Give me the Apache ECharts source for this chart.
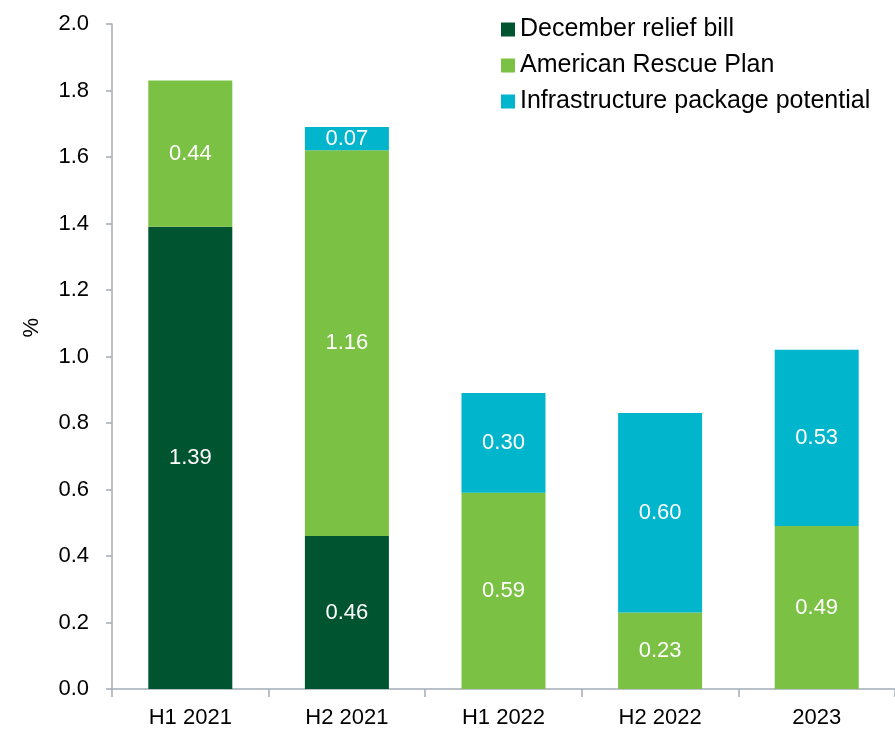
<!DOCTYPE html>
<html>
<head>
<meta charset="utf-8">
<script src="https://cdn.jsdelivr.net/npm/echarts@6/dist/echarts.min.js"></script>
<style>
html, body { margin: 0; padding: 0; background: #fff; }
#chart { width: 895px; height: 729px; }
</style>
</head>
<body>
<div id="chart"></div>
<script>
// categories and stacked values (%)
const periods = ['H1 2021', 'H2 2021', 'H1 2022', 'H2 2022', '2023'];
const decemberRelief = [1.39, 0.46, 0, 0, 0];
const americanRescue = [0.44, 1.16, 0.59, 0.23, 0.49];
const infrastructure = [0, 0.07, 0.30, 0.60, 0.53];
const yTicks = [0, 0.2, 0.4, 0.6, 0.8, 1.0, 1.2, 1.4, 1.6, 1.8, 2.0];

const chart = echarts.init(document.getElementById('chart'));

const fontFamily = '"Liberation Sans", Arial, sans-serif';

const makeSeries = (name, data, color) => ({
    name: name,
    type: 'bar',
    stack: 'total',
    barWidth: 84,
    data: data.map(v => (v > 0 ? v : null)),
    itemStyle: { color: color },
    label: {
        show: true,
        position: 'inside',
        color: '#fff',
        fontSize: 22,
        fontFamily: fontFamily,
        formatter: p => (p.value ? p.value.toFixed(2) : '')
    }
});

const option = {
    animation: false,
    grid: {
        left: 112,
        right: -9,
        top: 24,
        bottom: 40
    },
    legend: {
        orient: 'vertical',
        left: 501,
        top: 17,
        padding: 0,
        itemWidth: 14,
        itemHeight: 14,
        itemGap: 11,
        icon: 'rect',
        textStyle: {
            fontSize: 25,
            color: '#000',
            fontFamily: fontFamily
        },
        data: ['December relief bill', 'American Rescue Plan', 'Infrastructure package potential']
    },
    xAxis: {
        type: 'category',
        data: periods,
        axisLine: { lineStyle: { color: '#a3acb5', width: 1.5 } },
        axisTick: { show: true, length: 8, lineStyle: { color: '#a3acb5', width: 1.5 } },
        axisLabel: {
            fontSize: 22,
            color: '#000',
            fontFamily: fontFamily,
            margin: 18
        }
    },
    yAxis: {
        type: 'value',
        min: yTicks[0],
        max: yTicks[yTicks.length - 1],
        interval: 0.2,
        splitLine: { show: false },
        axisLine: { show: true, lineStyle: { color: '#a3acb5', width: 1.5 } },
        axisTick: { show: true, length: 6, lineStyle: { color: '#a3acb5', width: 1.5 } },
        axisLabel: {
            fontSize: 22,
            color: '#000',
            fontFamily: fontFamily,
            margin: 23,
            formatter: v => v.toFixed(1)
        }
    },
    graphic: [{
        type: 'text',
        left: 21,
        top: 318,
        rotation: Math.PI / 2,
        style: {
            text: '%',
            fontSize: 22,
            fill: '#000',
            fontFamily: fontFamily
        }
    }],
    series: [
        makeSeries('December relief bill', decemberRelief, '#005430'),
        makeSeries('American Rescue Plan', americanRescue, '#7bc143'),
        makeSeries('Infrastructure package potential', infrastructure, '#00b5cc')
    ]
};

chart.setOption(option);
</script>
</body>
</html>
